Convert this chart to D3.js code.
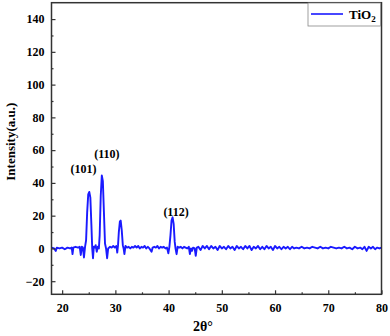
<!DOCTYPE html>
<html>
<head>
<meta charset="utf-8">
<script src="https://cdn.jsdelivr.net/npm/d3@7"></script>
<style>
  body { margin: 0; background: #fff; }
</style>
</head>
<body>
<div id="chart"></div>
<script>
// 2theta (deg) and intensity
const twoTheta = [
  18.0, 18.5, 18.8, 19.0, 19.5, 20.0, 20.5, 21.0, 21.5, 21.8, 21.95, 22.1, 22.5, 23.0, 23.3, 23.5, 23.7, 23.9, 24.1, 24.3,
  24.5, 24.7, 24.9, 25.1, 25.3, 25.5, 25.65, 25.8, 25.95, 26.1, 26.3, 26.5, 26.7, 26.9, 27.05, 27.25, 27.45, 27.65, 27.85, 28.05,
  28.25, 28.45, 28.65, 29.0, 29.3, 29.6, 29.9, 30.2, 30.35, 30.5, 30.65, 30.85, 31.0, 31.2, 31.4, 31.55, 31.7, 31.9, 32.2, 32.5,
  32.8, 33.1, 33.4, 33.7, 34.0, 34.3, 34.6, 34.9, 35.2, 35.5, 35.8, 36.1, 36.4, 36.8, 37.0, 37.3, 37.6, 37.9, 38.2, 38.5,
  38.8, 39.1, 39.4, 39.7, 39.95, 40.15, 40.35, 40.55, 40.75, 40.95, 41.15, 41.3, 41.5, 41.7, 42.0, 42.3, 42.6, 42.9, 43.2, 43.5,
  43.8, 44.0, 44.2, 44.4, 44.6, 44.9, 45.1, 45.3, 45.6, 46.0, 46.4, 46.8, 47.2, 47.6, 48.0, 48.4, 48.8, 49.2, 49.6, 50.0,
  50.4, 50.8, 51.2, 51.6, 52.0, 52.4, 52.8, 53.2, 53.6, 54.0, 54.4, 54.8, 55.2, 55.6, 56.0, 56.4, 56.8, 57.2, 57.6, 58.0,
  58.4, 58.8, 59.2, 59.6, 60.0, 60.4, 60.8, 61.2, 61.6, 62.0, 62.4, 62.8, 63.2, 63.6, 64.0, 64.5, 65.0, 65.5, 66.0, 66.5,
  67.0, 67.5, 68.0, 68.5, 69.0, 69.5, 70.0, 70.5, 71.0, 71.5, 72.0, 72.5, 73.0, 73.5, 74.0, 74.5, 75.0, 75.5, 76.0, 76.4,
  76.8, 77.2, 77.6, 78.0, 78.4, 78.8, 79.2, 79.6, 80.0
];
const intensity = [
  0.5, 0, -1.5, 0.5, 0, 0.5, -0.5, 0.5, 0, 0.5, -3.5, 0.5, 1, 0.5, 1, -4, 1, 0.5, -5.5, 1,
  5, 22, 33, 34.5, 31, 14, 0, -6, 1, 0.5, 2, -2, 1, 0, 8, 32, 44.5, 41, 22, 3,
  0, -6, 0, 1, 0.5, 1.5, 0.5, 1.5, -2.5, 2, 10, 16.5, 17, 11, 2, 0, -3.5, 1.5, 0.5, 1,
  0, 1, 0.5, 1.5, 0.5, 1.5, 0, 1, 0.5, 1.5, 0, 1, 0, -2, 0.5, 1, 0.5, 1.5, 0, 1,
  0.5, 1, 0, 0.5, -3, 1, 8, 17, 19, 15, 4, 0, -3.5, 1, 0.5, 1, 0, 1, 0.5, 0,
  1, -3.5, 0, -1.5, 0.5, 0, -4.5, 0.5, 1, -1, 1.5, 0, 1.5, -0.5, 1.5, 0, 1, -1, 1.5, 0,
  1, -0.5, 1.5, 0, 1, -1, 1.5, 0, 1, -0.5, 1.5, 0, 1.5, -1, 1, 0, 1.5, -0.5, 1, -0.5,
  1.5, 0, 1, -1, 1.5, 0, 1, -0.5, 1, 0, 1, -0.5, 1, 0, 0.5, 0, 1, 0, 0.5, 0,
  1, 0.5, 0, 1, 0, 0.5, 0, 1, 0.5, 0, 0.5, 0, 1, 0, 0.5, -0.5, 1, 0, 0.5, -0.5,
  1, -1.5, 1, 0, 1, -0.5, 0.5, 0, 0.5
];
const peakLabels = ["(101)", "(110)", "(112)"];
const peakPos = [24.0, 28.4, 41.4];
const peakLabelY = [46, 55, 19.8];
const xTicks = [20, 30, 40, 50, 60, 70, 80];
const yTicks = [-20, 0, 20, 40, 60, 80, 100, 120, 140];
const seriesName = "TiO";

const FONT = "'Liberation Serif'";
const W = 390, H = 336;
const margin = {left: 51.5, right: 8.5, top: 2.7, bottom: 41.7};
const width = W - margin.left - margin.right,
      height = H - margin.top - margin.bottom;

const svg = d3.select("#chart").append("svg")
    .attr("width", W).attr("height", H);

const g = svg.append("g")
    .attr("transform", "translate(" + margin.left + "," + margin.top + ")");

const x = d3.scaleLinear().domain([18, 80]).range([0, width]);
const y = d3.scaleLinear().domain([-28, 150]).range([height, 0]);

// data line
const pts = twoTheta.map((t, i) => [t, intensity[i]]);
g.append("path")
    .datum(pts)
    .attr("fill", "none")
    .attr("stroke", "#1a1aff")
    .attr("stroke-width", 1.9)
    .attr("stroke-linejoin", "round")
    .attr("d", d3.line().x(d => x(d[0])).y(d => y(d[1])));

// frame
g.append("rect")
    .attr("width", width).attr("height", height)
    .attr("fill", "none").attr("stroke", "#333").attr("stroke-width", 1.5);

const styleText = sel => sel
    .style("font-family", FONT)
    .style("font-weight", "bold")
    .style("fill", "#000");

// x axis, inward ticks
const xAxis = g.append("g").attr("transform", "translate(0," + height + ")");
xAxis.call(d3.axisBottom(x).tickValues(xTicks).tickSizeInner(-4).tickSizeOuter(0).tickPadding(9));
xAxis.selectAll(".tick text").call(styleText).style("font-size", "12px");
xAxis.call(s => s.select(".domain").remove());
xAxis.selectAll(".tick line").attr("stroke", "#333").attr("stroke-width", 1.2);
g.append("g").attr("transform", "translate(0," + height + ")")
    .call(d3.axisBottom(x).tickValues(d3.range(25, 80, 10)).tickSize(-2).tickFormat(""))
    .call(s => s.select(".domain").remove())
    .selectAll("line").attr("stroke", "#333").attr("stroke-width", 1.2);

// y axis, inward ticks
const yAxis = g.append("g");
yAxis.call(d3.axisLeft(y).tickValues(yTicks).tickSizeInner(-4).tickSizeOuter(0).tickPadding(7));
yAxis.selectAll(".tick text").call(styleText).style("font-size", "12px");
yAxis.call(s => s.select(".domain").remove());
yAxis.selectAll(".tick line").attr("stroke", "#333").attr("stroke-width", 1.2);
g.append("g")
    .call(d3.axisLeft(y).tickValues(d3.range(-10, 150, 20)).tickSize(-2).tickFormat(""))
    .call(s => s.select(".domain").remove())
    .selectAll("line").attr("stroke", "#333").attr("stroke-width", 1.2);

// axis titles
g.append("text")
    .attr("transform", "rotate(-90)")
    .attr("x", -139).attr("y", -37)
    .attr("text-anchor", "middle")
    .call(styleText).style("font-size", "13px")
    .text("Intensity(a.u.)");

g.append("text")
    .attr("x", width / 2 - 13.5).attr("y", height + 37)
    .attr("text-anchor", "middle")
    .call(styleText).style("font-size", "14px")
    .text("2θ°");

// peak labels
g.selectAll(".peak")
    .data(peakLabels)
    .enter().append("text")
    .attr("class", "peak")
    .attr("x", (d, i) => x(peakPos[i]))
    .attr("y", (d, i) => y(peakLabelY[i]))
    .attr("text-anchor", "middle")
    .call(styleText).style("font-size", "12px")
    .text(d => d);

// legend
const lg = svg.append("g").attr("transform", "translate(308,3)");
lg.append("rect")
    .attr("width", 72.5).attr("height", 23)
    .attr("fill", "#fff").attr("stroke", "#888").attr("stroke-width", 0.8);
lg.append("line")
    .attr("x1", 3).attr("x2", 35).attr("y1", 11).attr("y2", 11)
    .attr("stroke", "#1a1aff").attr("stroke-width", 1.6);
const lt = lg.append("text").attr("x", 41).attr("y", 16)
    .call(styleText).style("font-size", "13px");
lt.append("tspan").text(seriesName);
lt.append("tspan").style("font-size", "9px").attr("dy", 3).text("2");
</script>
</body>
</html>
